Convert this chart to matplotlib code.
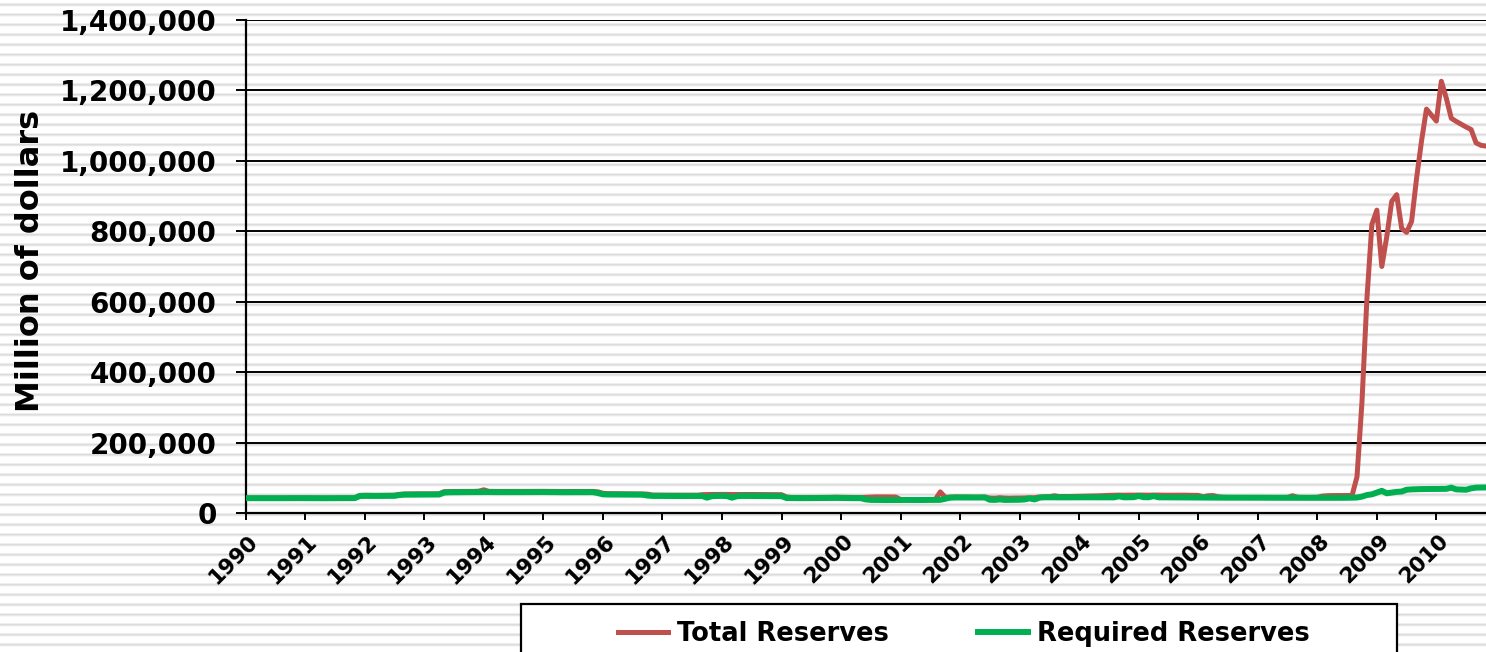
import numpy as np
import matplotlib
matplotlib.use('Agg')
import matplotlib.pyplot as plt
import matplotlib.transforms as mtransforms
from matplotlib.patches import Rectangle
from matplotlib.ticker import FuncFormatter

# monthly values, Jan 1990 - Nov 2010 (million of dollars)
total_reserves = [
    42600, 42500, 42400, 42500, 42600, 42500, 42400, 42500, 42600, 42500, 42500, 42700,  # 1990
    42600, 42500, 42400, 42300, 42400, 42500, 42500, 42400, 42500, 42600, 42800, 50000,  # 1991
    50500, 50300, 50200, 50300, 50400, 50500, 50600, 53000, 54000, 54200, 54300, 54500,  # 1992
    54400, 54300, 54400, 54600, 60500, 60800, 61000, 61100, 61200, 61300, 61400, 62000,  # 1993
    66000, 61500, 61300, 61200, 61300, 61400, 61300, 61200, 61300, 61400, 61500, 61600,  # 1994
    61500, 61300, 61200, 61100, 61000, 61100, 61200, 61100, 61000, 61100, 61200, 60000,  # 1995
    56000, 55000, 54800, 54600, 54500, 54400, 54300, 54200, 54100, 53500, 51000, 50800,  # 1996
    50900, 50800, 50700, 50600, 50700, 50800, 50700, 50600, 52000, 52500, 52700, 52800,  # 1997
    52900, 52800, 52500, 52600, 52800, 52700, 52600, 52500, 52400, 52300, 52200, 52100,  # 1998
    52000, 45500, 44000, 43800, 43700, 43800, 43900, 44000, 44200, 44300, 44400, 44800,  # 1999
    44500, 44200, 44000, 43900, 43800, 44500, 45500, 45700, 45800, 45600, 45500, 45400,  # 2000
    38500, 38200, 38000, 37900, 38000, 38100, 38200, 38300, 60000, 44500, 45000, 45500,  # 2001
    45500, 45300, 45000, 44800, 45000, 45200, 42500, 42000, 43500, 42500, 42000, 42500,  # 2002
    42500, 43000, 43200, 43500, 45500, 46000, 46200, 49000, 46500, 47000, 46800, 47000,  # 2003
    47500, 47800, 48000, 48500, 48800, 49500, 50000, 50500, 50800, 50500, 50800, 50700,  # 2004
    51000, 50800, 50600, 51000, 50800, 50700, 50500, 50600, 50800, 50700, 50500, 50600,  # 2005
    50000, 46000, 49000, 49500, 46000, 44500, 44000, 44000, 44200, 44100, 44000, 44200,  # 2006
    44100, 44000, 43900, 43800, 44000, 44200, 44000, 49000, 44500, 44200, 44000, 44300,  # 2007
    44500, 48000, 49000, 49500, 49600, 49800, 49500, 49700, 103000, 315000, 609000, 820000,  # 2008
    860000, 700000, 785000, 885000, 904000, 808000, 797000, 828000, 950000, 1056000, 1147000, 1130000,  # 2009
    1113000, 1226000, 1178000, 1121000, 1112000, 1104000, 1096000, 1089000, 1051000, 1044000, 1042000,  # 2010
]

required_reserves = [
    42100, 42000, 41900, 42000, 42100, 42000, 41900, 42000, 42100, 42000, 42000, 42200,  # 1990
    42100, 42000, 41900, 41800, 41900, 42000, 42000, 41900, 42000, 42100, 42300, 48200,  # 1991
    48500, 48400, 48300, 48400, 48500, 48600, 48700, 51000, 52000, 52100, 52200, 52400,  # 1992
    52300, 52200, 52300, 52500, 58000, 58800, 59000, 59100, 59200, 59300, 59400, 59600,  # 1993
    59800, 59500, 59300, 59200, 59300, 59400, 59300, 59200, 59300, 59400, 59500, 59600,  # 1994
    59500, 59300, 59200, 59100, 59000, 59100, 59200, 59100, 59000, 59100, 59200, 56500,  # 1995
    53000, 52500, 52400, 52300, 52200, 52100, 52000, 52000, 51900, 49500, 48500, 48400,  # 1996
    48500, 48400, 48300, 48200, 48300, 48400, 48300, 48200, 48300, 43500, 48000, 48400,  # 1997
    48500, 48000, 43500, 47500, 48400, 48300, 48200, 48100, 48000, 47900, 47800, 47700,  # 1998
    47800, 42500, 42300, 42200, 42100, 42200, 42300, 42400, 42500, 42600, 42700, 42800,  # 1999
    42500, 42300, 42200, 42100, 42000, 38500, 37200, 37000, 36900, 36800, 36900, 37000,  # 2000
    37100, 37000, 36900, 36800, 36900, 37000, 37100, 37200, 37300, 40500, 43500, 44000,  # 2001
    44100, 44000, 43900, 43800, 43900, 44000, 37500, 37200, 38500, 37100, 37300, 37500,  # 2002
    37600, 38500, 41500, 38500, 43500, 44500, 44400, 44300, 44200, 44300, 44400, 44500,  # 2003
    44600, 44500, 44400, 44300, 44400, 44500, 44400, 44300, 47500, 44500, 44600, 44800,  # 2004
    48500, 44800, 44600, 48000, 44500, 44400, 44300, 44200, 44100, 44000, 43900, 43800,  # 2005
    43700, 43600, 43500, 43500, 43400, 43500, 43600, 43500, 43400, 43300, 43400, 43500,  # 2006
    43400, 43300, 43200, 43100, 43200, 43300, 43200, 43100, 43000, 43100, 43200, 43100,  # 2007
    43000, 43100, 43200, 43100, 43000, 43100, 43200, 43500, 44000, 46500, 51000, 53000,  # 2008
    58000, 63000, 56000, 58000, 60000, 61000, 66000, 67000, 67500, 68000, 68000, 68200,  # 2009
    68300, 68400, 68500, 72000, 67000, 66500, 66000, 70000, 72000, 72300, 72500,  # 2010
]

year_labels = ['1990', '1991', '1992', '1993', '1994', '1995', '1996', '1997',
               '1998', '1999', '2000', '2001', '2002', '2003', '2004', '2005',
               '2006', '2007', '2008', '2009', '2010']

W, H = 1486, 652
plt.rcParams['font.family'] = 'DejaVu Sans'
plt.rcParams['font.weight'] = 'bold'

fig = plt.figure(figsize=(W / 100, H / 100), dpi=100)

# striped slide background
stripe = np.array([1.0, 1.0, 1.0, 0.93, 0.86, 0.90, 0.97, 1.0, 1.0, 1.0])
pattern = np.tile(stripe, H // len(stripe) + 1)[:H]
bg = fig.add_axes([0, 0, 1, 1], zorder=-10)
bg.imshow(pattern[:, None], cmap='gray', vmin=0, vmax=1, aspect='auto',
          extent=(0, 1, 0, 1), interpolation='nearest')
bg.axis('off')

left, bottom, top = 245.7, 513, 20
ax = fig.add_axes([left / W, 1 - bottom / H, 1 - left / W, (bottom - top) / H])
ax.set_facecolor('none')

x = np.arange(len(total_reserves))
ax.plot(x, total_reserves, color='#C0504D', lw=3.6, label='Total Reserves', zorder=3)
ax.plot(x, required_reserves, color='#00B050', lw=4.3, label='Required Reserves', zorder=4)

ax.set_xlim(0, len(total_reserves) - 1)
ax.set_ylim(0, 1400000)
ax.set_yticks(np.arange(0, 1400001, 200000))
ax.yaxis.set_major_formatter(FuncFormatter(lambda v, p: f'{int(v):,}'))
ax.set_xticks(np.arange(0, 12 * len(year_labels), 12))
ax.set_xticklabels(year_labels, rotation=45, ha='right', va='center',
                   rotation_mode='anchor')

ax.grid(axis='y', color='black', lw=1.4)
ax.set_axisbelow(True)
for s in ['top', 'right']:
    ax.spines[s].set_visible(False)
for s in ['left', 'bottom']:
    ax.spines[s].set_color('black')
    ax.spines[s].set_linewidth(1.6)
ax.tick_params(axis='y', length=7, width=1.4, pad=14, labelsize=20)
ax.tick_params(axis='x', length=5, width=1.4, pad=13, labelsize=15.5)

# Excel puts the rotated year labels a bit right of the tick
shift = mtransforms.ScaledTranslation(9 / 100, 0, fig.dpi_scale_trans)
for lab in ax.get_xticklabels():
    lab.set_transform(lab.get_transform() + shift)

fig.text(31 / W, 1 - 261 / H, 'Million of dollars', rotation=90, fontsize=23,
         fontweight='bold', ha='center', va='center')

# legend box runs off the bottom of the slide
box = Rectangle((521 / W, -0.1), (1397 - 521) / W, (H - 604) / H + 0.1,
                transform=fig.transFigure, facecolor='white', edgecolor='black',
                lw=1.6, zorder=1)
fig.add_artist(box)
handles, labels = ax.get_legend_handles_labels()
fig.legend(handles, labels, loc='center left', bbox_to_anchor=(618 / W, 1 - 634 / H),
           ncol=2, frameon=False, fontsize=18.5, handlelength=1.95, handletextpad=0.33,
           columnspacing=3.5, borderaxespad=0, borderpad=0)

fig.savefig('out.png', dpi=100)
